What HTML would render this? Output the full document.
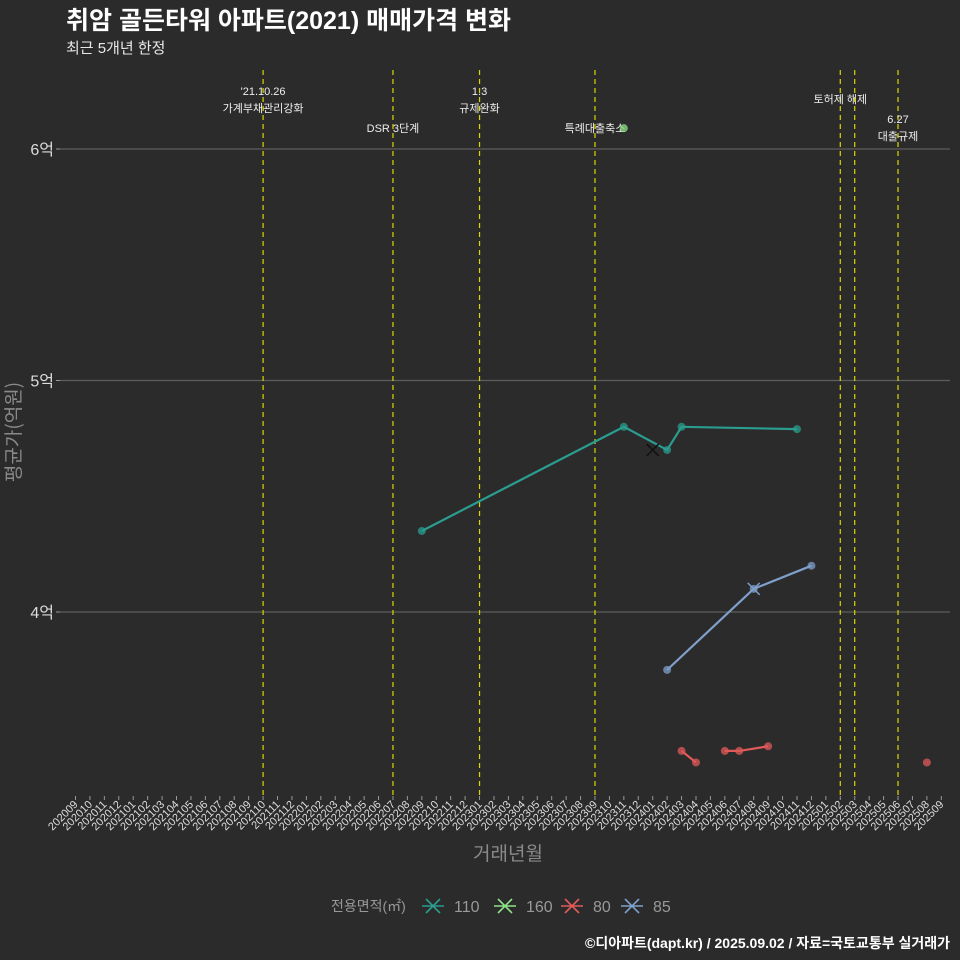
<!DOCTYPE html>
<html><head><meta charset="utf-8">
<style>
html,body{margin:0;padding:0;background:#2b2b2b;}
svg{display:block;font-family:"Liberation Sans","Noto Sans CJK KR",sans-serif;}
</style></head>
<body>
<svg id="chart" width="960" height="960" viewBox="0 0 960 960">
<rect width="960" height="960" fill="#2b2b2b"/>
<text x="66" y="29" font-size="25" font-weight="bold" fill="#ffffff">취암 골든타워 아파트(2021) 매매가격 변화</text>
<text x="66" y="53" font-size="15" fill="#e8e8e8">최근 5개년 한정</text>
<g id="grid"></g>
<g id="events"></g>
<g id="series"></g>
<g id="xaxis"></g>
<text x="508" y="860" font-size="19" fill="#8a8a8a" text-anchor="middle">거래년월</text>
<text transform="translate(20,432) rotate(-90)" font-size="19" fill="#8a8a8a" text-anchor="middle" font-family="Noto Sans CJK KR, sans-serif">평균가(억원)</text>
<g id="legend"></g>
<text x="950" y="948" font-size="14" font-weight="bold" fill="#ffffff" text-anchor="end">©디아파트(dapt.kr) / 2025.09.02 / 자료=국토교통부 실거래가</text>
</svg>
<script>
const months = [];
for (let y = 2020, m = 9; !(y === 2025 && m === 10); ) { months.push(String(y) + String(m).padStart(2, '0')); m++; if (m > 12) { m = 1; y++; } }
const yTicks = [4, 5, 6];
const yTickLabels = ['4억', '5억', '6억'];
const seriesNames = ['110', '160', '80', '85'];
const seriesColors = ['#2a9d8f', '#8fe388', '#e05a5a', '#7f9fcc'];
const months110 = ['202209', '202311', '202402', '202403', '202411'];
const values110 = [4.35, 4.80, 4.70, 4.80, 4.79];
const months160 = ['202311'];
const values160 = [6.09];
const months80a = ['202403', '202404'];
const values80a = [3.40, 3.35];
const months80b = ['202406', '202407', '202409'];
const values80b = [3.40, 3.40, 3.42];
const months80c = ['202508'];
const values80c = [3.35];
const months85 = ['202402', '202408', '202412'];
const values85 = [3.75, 4.10, 4.20];
const crossMonths = ['202401', '202408'];
const crossValues = [4.70, 4.10];
const crossColors = ['#111111', '#7f9fcc'];
const eventMonths = ['202110', '202207', '202301', '202309', '202502', '202503', '202506'];
const eventLabels = [["'21.10.26", '가계부채관리강화'], ['DSR 3단계'], ['1.3', '규제완화'], ['특례대출축소'], ['토허제 해제'], [], ['6.27', '대출규제']];
const eventLabelY = [95, 132, 95, 132, 103, 0, 123];
const eventLabelDx = [0, 0, 0, 0, 0, 0, 0];

const NS = 'http://www.w3.org/2000/svg';
const x0 = 75.5, dx = 14.43;
function xs(mo) { return x0 + months.indexOf(mo) * dx; }
function ys(v) { return 612 - (v - 4) * 231.5; }
function mk(tag, attrs, parent) { const e = document.createElementNS(NS, tag); for (const k in attrs) e.setAttribute(k, attrs[k]); parent.appendChild(e); return e; }

const grid = document.getElementById('grid');
yTicks.forEach((t, i) => {
  const l = mk('line', {x1: 60, x2: 950, y1: ys(t), y2: ys(t), stroke: '#5e5e5e', 'stroke-width': 1.2}, grid);
  
  
  const tk = mk('line', {x1: 56, x2: 60, y1: ys(t), y2: ys(t), stroke: '#999', 'stroke-width': 1}, grid);
  
  
  const tx = mk('text', {x: 54, y: ys(t) + 6, 'font-size': 16, fill: '#dddddd', 'text-anchor': 'end'}, grid);
  tx.textContent = yTickLabels[i];
  
  
});

const ev = document.getElementById('events');
eventMonths.forEach((mo, i) => {
  const x = xs(mo);
  const l = mk('line', {x1: x, x2: x, y1: 70, y2: 797, stroke: '#d8d800', 'stroke-width': 1.2, 'stroke-dasharray': '5,4'}, ev);
  
  
  eventLabels[i].forEach((s, j) => {
    const t = mk('text', {x: x + eventLabelDx[i], y: eventLabelY[i] + j * 17, 'font-size': 11, fill: '#eeeeee', 'text-anchor': 'middle'}, ev);
    t.textContent = s;
    
    
  });
});

const sg = document.getElementById('series');
function drawSeries(ms, vs, color, name) {
  if (ms.length > 1) {
    const p = mk('polyline', {points: ms.map((m, i) => xs(m) + ',' + ys(vs[i])).join(' '), fill: 'none', stroke: color, 'stroke-width': 2.2}, sg);
    
    
  }
  ms.forEach((m, i) => {
    const c = mk('circle', {cx: xs(m), cy: ys(vs[i]), r: 4, fill: color, 'fill-opacity': 0.75}, sg);
    
    
  });
}
drawSeries(months110, values110, seriesColors[0], '110');
drawSeries(months160, values160, seriesColors[1], '160');
drawSeries(months80a, values80a, seriesColors[2], '80');
drawSeries(months80b, values80b, seriesColors[2], '80');
drawSeries(months80c, values80c, seriesColors[2], '80');
drawSeries(months85, values85, seriesColors[3], '85');
crossMonths.forEach((m, i) => {
  const x = xs(m), y = ys(crossValues[i]);
  const p = mk('path', {d: `M${x-6},${y-6}L${x+6},${y+6}M${x-6},${y+6}L${x+6},${y-6}`, stroke: crossColors[i], 'stroke-width': 1.5}, sg);
  
  
});

const xa = document.getElementById('xaxis');
months.forEach((mo) => {
  const x = xs(mo);
  const tk = mk('line', {x1: x, x2: x, y1: 796, y2: 800, stroke: '#999', 'stroke-width': 1}, xa);
  
  
  const t = mk('text', {transform: `translate(${x + 3},${805}) rotate(-45)`, 'font-size': 11, fill: '#dddddd', 'text-anchor': 'end'}, xa);
  t.textContent = mo;
  
  
});

const lg = document.getElementById('legend');
const lt = mk('text', {x: 331, y: 911, 'font-size': 14, fill: '#999999'}, lg);
lt.textContent = '전용면적(㎡)';


const legX = [433, 505, 572, 632];
seriesNames.forEach((n, i) => {
  const g = mk('g', {}, lg);
  
  
  const cx = legX[i], cy = 906;
  mk('path', {d: `M${cx-11},${cy}L${cx+11},${cy}M${cx-7},${cy-7}L${cx+7},${cy+7}M${cx-7},${cy+7}L${cx+7},${cy-7}`, stroke: seriesColors[i], 'stroke-width': 1.6}, g);
  const t = mk('text', {x: cx + 21, y: 912, 'font-size': 16, fill: '#999999'}, g);
  t.textContent = n;
});
</script>
</body></html>
